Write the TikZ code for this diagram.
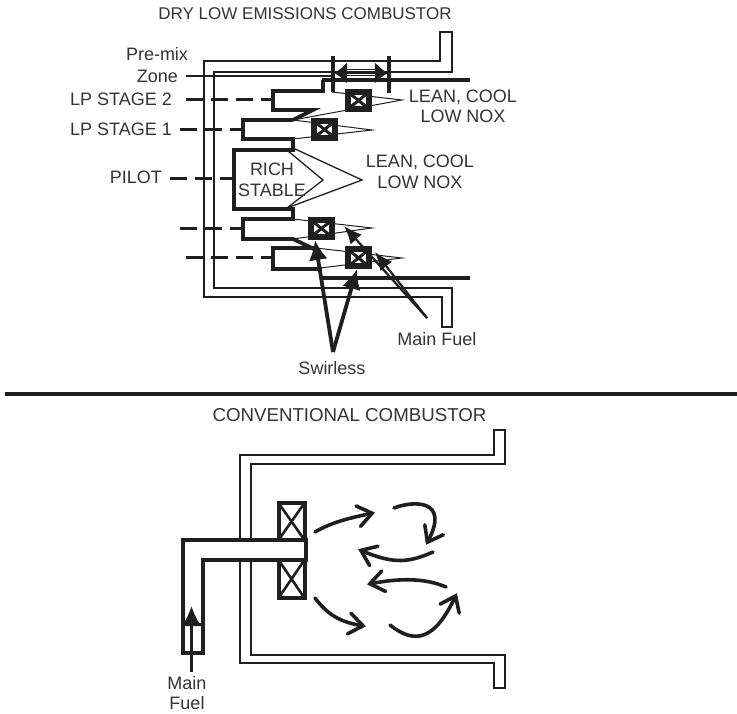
\documentclass[tikz,border=0pt]{standalone}
\usepackage{fontspec}
\setmainfont{Liberation Sans}
\usetikzlibrary{arrows.meta}
\definecolor{ink}{gray}{0.12}
\definecolor{txt}{gray}{0.2}
\pgfdeclarearrow{
  name=OpenVee,
  setup code={\pgfarrowssettipend{1pt}\pgfarrowssetlineend{-1pt}\pgfarrowssetbackend{-14pt}\pgfarrowssetvisualbackend{-14pt}},
  drawing code={\pgfsetdash{}{0pt}\pgfsetroundcap\pgfsetmiterjoin
    \pgfpathmoveto{\pgfqpoint{-14pt}{10.5pt}}\pgfpathlineto{\pgfqpoint{0pt}{0pt}}\pgfpathlineto{\pgfqpoint{-14pt}{-10.5pt}}\pgfusepathqstroke}
}
\tikzset{
  x=1pt,y=-1pt,
  casing/.style={draw=ink,line width=2pt,line join=miter},
  wall/.style={draw=ink,line width=3.8pt,line join=miter},
  heavy/.style={draw=ink,line width=3.4pt},
  thin flame/.style={draw=ink,line width=1pt},
  flame/.style={draw=ink,line width=1.3pt},
  feed/.style={draw=ink,line width=3pt,dash pattern=on 17pt off 8pt},
  label/.style={text=txt,font=\fontsize{18}{20.5}\selectfont,inner sep=0pt,align=center},
  heading/.style={text=txt,font=\fontsize{17}{20}\selectfont,inner sep=0pt,align=center},
  swirlbox/.style={draw=ink,fill=white,line width=6pt,minimum width=21pt,minimum height=17pt,inner sep=0pt,
    path picture={\draw[ink,line width=3pt] (path picture bounding box.north west)--(path picture bounding box.south east)
      (path picture bounding box.north east)--(path picture bounding box.south west);}},
  bigswirl/.style={draw=ink,fill=white,line width=4pt,minimum width=26pt,inner sep=0pt,
    path picture={\draw[ink,line width=2.6pt] (path picture bounding box.north west)--(path picture bounding box.south east)
      (path picture bounding box.north east)--(path picture bounding box.south west);}},
  pointer/.style={draw=ink,line width=3.8pt,-{Latex[length=20pt,width=19pt]}},
  fuelptr/.style={draw=ink,line width=2.2pt,-{Latex[length=18pt,width=15pt]}},
  flow/.style={draw=ink,line width=3.6pt,line cap=round,-OpenVee},
}
\begin{document}
\begin{tikzpicture}
\useasboundingbox (0,0) rectangle (737,714);
% ---------- dry low emissions ----------
\draw[casing] (204,61)--(440,61)--(440,32)--(452,32)--(452,72)--(214,72)--(214,288)--(452,288)--(452,327)--(442,327)--(442,297)--(204,297)--cycle;
\draw[flame] (293,148)--(362,180)--(287,208);
\draw[flame] (288,151)--(323,180)--(287,208);
\node[label] (rich) at (272,180) {RICH\\STABLE};
\draw[thin flame] (332,92)--(402,100)--(293,120);
\draw[thin flame] (293,120)--(372,130)--(293,139);
\draw[thin flame] (293,219)--(372,228)--(293,239);
\draw[thin flame] (316,248)--(402,258)--(320,268);
\draw[heavy] (322,80)--(470,80);
\draw[heavy] (323,278)--(470,278);
% burners
\coordinate (b2) at (273,100);
\coordinate (b1) at (243,130);
\coordinate (bp) at (234,179);
\coordinate (b3) at (243,229);
\coordinate (b4) at (273,258);
\draw[wall] (323,80)--(323,91)--(273,91)--(273,110)--(313,110)--(293,120);
\draw[wall] (293,120)--(243,120)--(243,139)--(293,139)--(293,150)--(234,150)--(234,209)--(293,209)--(293,219)--(243,219)--(243,239)--(293,239)--(316,250);
\draw[wall] (316,248)--(273,248)--(273,269)--(322,269);
\draw[line width=2pt,ink] (332,80)--(332,92);
\node[swirlbox] (s1) at (358.5,100.5) {};
\node[swirlbox] (s2) at (324.5,129.5) {};
\node[swirlbox] (s3) at (321.5,228.5) {};
\node[swirlbox] (s4) at (358.5,258) {};
% pre-mix dimension
\coordinate (d1a) at (333,56); \coordinate (d1b) at (333,92);
\coordinate (d2a) at (389,56); \coordinate (d2b) at (389,93);
\draw[draw=ink,line width=3.4pt] (d1a)--(d1b);
\draw[draw=ink,line width=3.4pt] (d2a)--(d2b);
\draw[draw=ink,line width=7pt,-{Latex[length=13pt,width=22pt]}] (361,73)--(334,73);
\draw[draw=ink,line width=7pt,-{Latex[length=13pt,width=22pt]}] (361,73)--(388,73);
\draw[draw=white,line width=1pt] (347,71)--(375,71);
\draw[draw=white,line width=1pt] (347,75)--(375,75);
% labels and feeds
\node[heading] (title) at (305,14) {DRY LOW EMISSIONS COMBUSTOR};
\node[label] (pre) at (157,54) {Pre-mix};
\node[label,anchor=east] (zone) at (178,76) {Zone};
\node[label,anchor=east] (lp2) at (172,99) {LP STAGE 2};
\node[label,anchor=east] (lp1) at (172,129) {LP STAGE 1};
\node[label,anchor=east] (pilot) at (162,177) {PILOT};
\draw[draw=ink,line width=1.3pt] (zone.east)++(8,0)--(333,76);
\coordinate (f2) at (186,100);\coordinate (f1) at (180,130);\coordinate (fp) at (170,179);\coordinate (f3) at (180,229);\coordinate (f4) at (186,258);
\draw[feed] (f2)--(b2);
\draw[feed] (f1)--(b1);
\draw[feed] (fp)--(bp);
\draw[feed] (f3)--(b3);
\draw[feed] (f4)--(b4);
\node[label] (lean1) at (463,106.5) {LEAN, COOL\\LOW NOX};
\node[label] (lean2) at (420,172) {LEAN, COOL\\LOW NOX};
\node[label] (swirless) at (332,368) {Swirless};
\node[label] (mainfuel) at (437,339) {Main Fuel};
\coordinate (apexS) at (333,352);
\coordinate (apexF) at (427,318);
\coordinate (t3) at (315,240); \coordinate (t4) at (357,269);
\coordinate (t1) at (344,226); \coordinate (t2) at (375,252);
\draw[pointer] (apexS)--(t3);
\draw[pointer] (apexS)--(t4);
\draw[fuelptr] (apexF)--(t1);
\draw[fuelptr] (apexF)--(t2);
% separator
\draw[draw=ink,line width=3.8pt] (5,394)--(737,394);
% ---------- conventional ----------
\node[heading,font=\fontsize{18.7}{20}\selectfont] (title2) at (349.5,415) {CONVENTIONAL COMBUSTOR};
\draw[casing] (240,663)--(240,455)--(494,455)--(494,430)--(505,430)--(505,464)--(251,464)--(251,655)--(505,655)--(505,688)--(494,688)--(494,663)--cycle;
\node[bigswirl,minimum height=37pt] (c1) at (291.5,521.5) {};
\node[bigswirl,minimum height=38pt] (c2) at (291.5,579) {};
\draw[wall,fill=white,line width=4.6pt] (183,653)--(183,540)--(306,540)--(306,560)--(203,560)--(203,653)--cycle;
\draw[draw=ink,line width=3pt] (183,624)--(203,624);
\coordinate (ff) at (191.5,672);
\coordinate (ft) at (191.5,606);
\draw[draw=ink,line width=3.4pt,-{Latex[length=20pt,width=20pt]}] (ff)--(ft);
\node[label] (mf2) at (187,693) {Main\\Fuel};
% flow arrows
\coordinate (a1) at (315,532); \coordinate (a2) at (373,513);
\coordinate (a3) at (394,508); \coordinate (a4) at (427,543);
\coordinate (a5) at (433,552); \coordinate (a6) at (360,550);
\coordinate (a7) at (446,587); \coordinate (a8) at (369,584);
\coordinate (a9) at (315,598); \coordinate (a10) at (364,626);
\coordinate (a11) at (390,625); \coordinate (a12) at (456,595);
\draw[flow] (a1) .. controls (332,522) and (350,518) .. (a2);
\draw[flow] (a3) .. controls (415,500) and (450,500) .. (a4);
\draw[flow] (a5) .. controls (410,562) and (395,565) .. (a6);
\draw[flow] (a7) .. controls (425,578) and (400,578) .. (a8);
\draw[flow] (a9) .. controls (328,615) and (340,622) .. (a10);
\draw[flow] (a11) .. controls (415,645) and (435,640) .. (a12);
\end{tikzpicture}
\end{document}
